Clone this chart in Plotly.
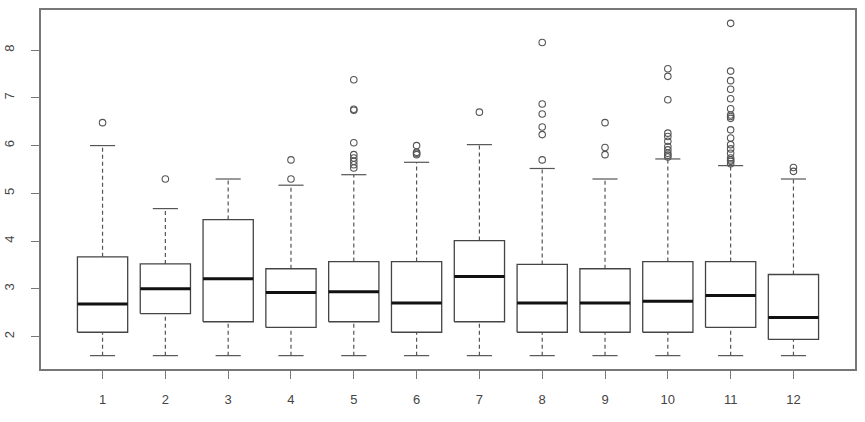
import plotly.graph_objects as go

groups = [str(i) for i in range(1, 13)]
lower_whisker = [1.6] * 12
q1 = [2.09, 2.48, 2.31, 2.19, 2.31, 2.09, 2.31, 2.09, 2.09, 2.09, 2.19, 1.94]
median = [2.68, 3.00, 3.21, 2.92, 2.94, 2.70, 3.26, 2.70, 2.70, 2.74, 2.86, 2.40]
q3 = [3.67, 3.52, 4.45, 3.42, 3.57, 3.57, 4.01, 3.51, 3.42, 3.57, 3.57, 3.30]
upper_whisker = [6.00, 4.68, 5.30, 5.17, 5.39, 5.65, 6.02, 5.52, 5.30, 5.72, 5.58, 5.30]
outliers = [
    [6.48],
    [5.30],
    [],
    [5.30, 5.70],
    [5.53, 5.60, 5.67, 5.74, 5.81, 6.06, 6.74, 6.76, 7.38],
    [5.81, 5.84, 5.86, 6.00],
    [6.70],
    [5.70, 6.23, 6.39, 6.66, 6.87, 8.16],
    [5.81, 5.96, 6.48],
    [5.76, 5.80, 5.84, 5.91, 5.98, 6.09, 6.19, 6.26, 6.96, 7.45, 7.61],
    [5.62, 5.67, 5.70, 5.74, 5.84, 5.93, 6.02, 6.16, 6.33, 6.57, 6.61, 6.64, 6.77, 6.98, 7.18, 7.36, 7.56, 8.56],
    [5.46, 5.54],
]

BOXW = 0.8
CAPW = 0.4

box_x, box_y = [], []
med_x, med_y = [], []
wh_x, wh_y = [], []
cap_x, cap_y = [], []
out_x, out_y = [], []
for i in range(12):
    p = i + 1
    l, r = p - BOXW / 2, p + BOXW / 2
    box_x += [l, r, r, l, l, None]
    box_y += [q1[i], q1[i], q3[i], q3[i], q1[i], None]
    med_x += [l, r, None]
    med_y += [median[i], median[i], None]
    wh_x += [p, p, None, p, p, None]
    wh_y += [lower_whisker[i], q1[i], None, q3[i], upper_whisker[i], None]
    cl, cr = p - CAPW / 2, p + CAPW / 2
    cap_x += [cl, cr, None, cl, cr, None]
    cap_y += [lower_whisker[i], lower_whisker[i], None, upper_whisker[i], upper_whisker[i], None]
    for v in outliers[i]:
        out_x.append(p)
        out_y.append(v)

fig = go.Figure()
fig.add_trace(go.Scatter(x=wh_x, y=wh_y, mode="lines",
                         line=dict(color="#555555", width=1.2, dash="4px,3px"), hoverinfo="skip"))
fig.add_trace(go.Scatter(x=cap_x, y=cap_y, mode="lines",
                         line=dict(color="#555555", width=1.2), hoverinfo="skip"))
fig.add_trace(go.Scatter(x=box_x, y=box_y, mode="lines", fill="toself", fillcolor="white",
                         line=dict(color="#444444", width=1.3), hoverinfo="skip"))
fig.add_trace(go.Scatter(x=med_x, y=med_y, mode="lines",
                         line=dict(color="#111111", width=3), hoverinfo="skip"))
fig.add_trace(go.Scatter(x=out_x, y=out_y, mode="markers",
                         marker=dict(symbol="circle-open", size=6.5, color="#555555", line=dict(width=1.1))))

axis_common = dict(showline=True, linecolor="#777777", linewidth=1.5, mirror=True,
                   ticks="outside", ticklen=8, tickcolor="#777777", tickwidth=1.3,
                   showgrid=False, zeroline=False, automargin=False,
                   tickfont=dict(family="Liberation Sans, Arial, sans-serif", size=13, color="#444444"))

fig.update_layout(
    template="none",
    width=865, height=422,
    margin=dict(l=41, r=10, t=10, b=53),
    plot_bgcolor="white", paper_bgcolor="white",
    showlegend=False,
    xaxis=dict(range=[0.02, 12.98], tickmode="array", tickvals=list(range(1, 13)), ticktext=groups,
               ticklabelstandoff=10, **axis_common),
    yaxis=dict(range=[1.32, 8.84], tickmode="array", tickvals=[2, 3, 4, 5, 6, 7, 8],
               tickangle=-90, ticklabelstandoff=12, **axis_common),
)

fig.write_html("out.html")
